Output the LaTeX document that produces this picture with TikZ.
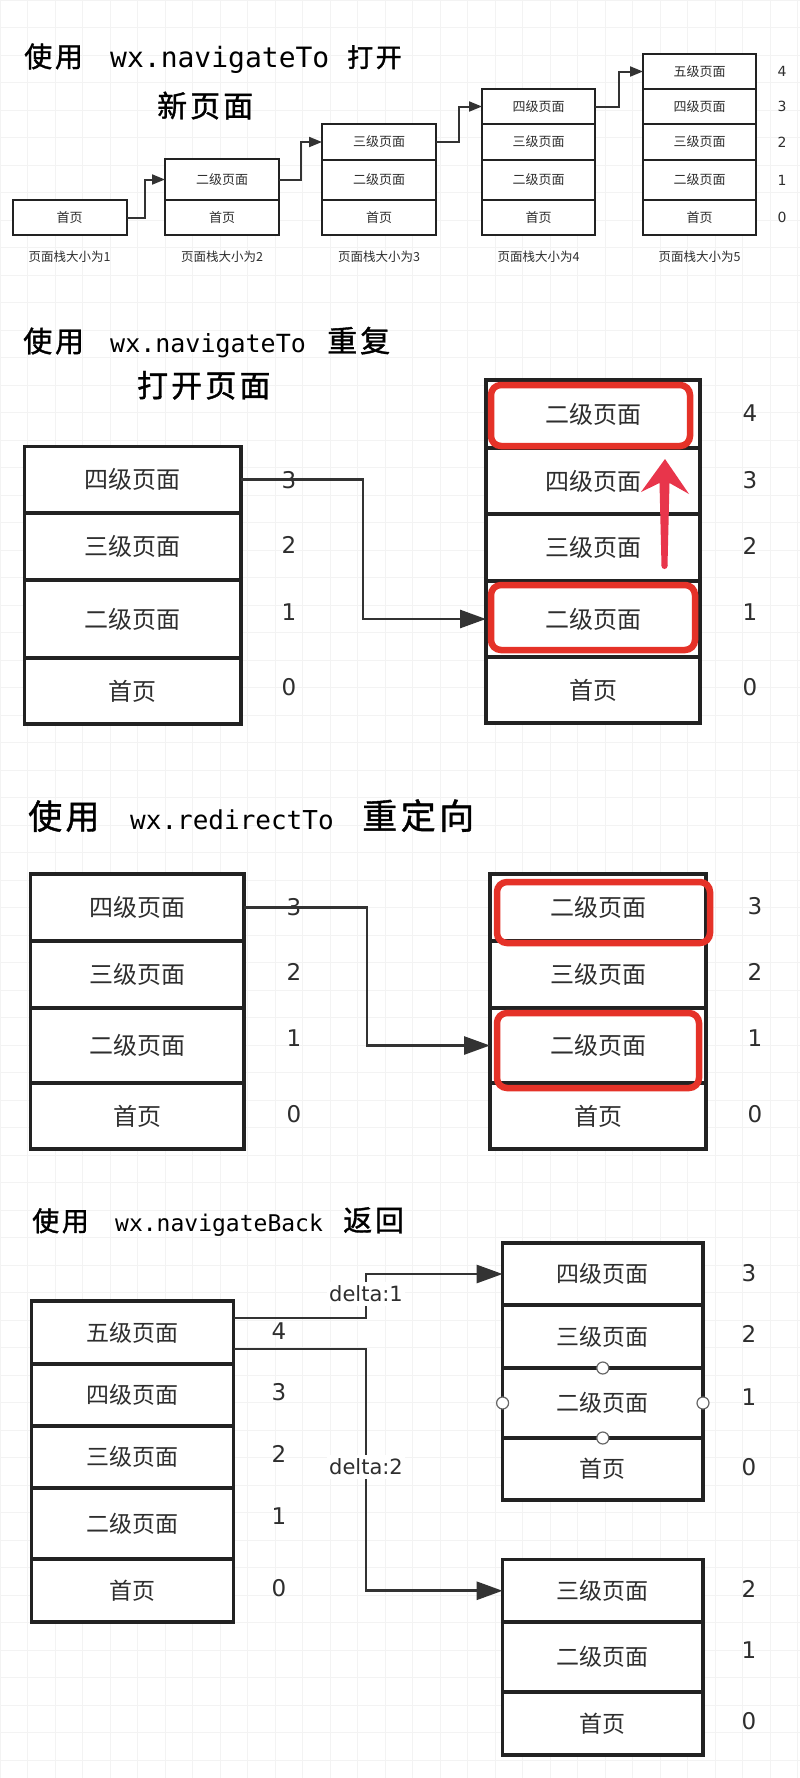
\documentclass[tikz,border=0pt]{standalone}
\usepackage{fontspec}
\setmainfont{DejaVu Sans}
\newfontfamily\cjk{Noto Sans CJK SC}
\newfontfamily\cjkt[LetterSpace=10,FakeBold=1.2]{Noto Sans CJK SC}
\newfontfamily\mono{DejaVu Sans Mono}
\usetikzlibrary{arrows.meta}
\definecolor{linec}{HTML}{222222}
\definecolor{textc}{HTML}{2E2E2E}
\definecolor{connc}{HTML}{333333}
\definecolor{hlred}{HTML}{E53228}
\definecolor{arrred}{HTML}{E8354B}
\definecolor{gridc}{HTML}{F3F3F3}
\newcommand\mkcell[7][]{\node[cell,#1,minimum width={#4-#2},minimum height={#5-#3}] (#6) at ({(#2+#4)/2},{(#3+#5)/2}) {#7};}
\begin{document}
\begin{tikzpicture}[x=1pt,y=-1pt,
  cell/.style={draw=linec,line width=3.3pt,fill=white,inner sep=0pt,outer sep=0pt,text=textc,font=\cjk\fontsize{24}{28}\selectfont},
  smallcell/.style={line width=2pt,font=\cjk\fontsize{13}{15}\selectfont},
  cell4/.style={font=\cjk\fontsize{23}{27}\selectfont},
  num/.style={inner sep=0pt,text=textc,font=\fontsize{23}{27}\selectfont},
  numsmall/.style={inner sep=0pt,text=textc,font=\fontsize{14}{16}\selectfont},
  lab/.style={inner sep=0pt,text=textc,font=\cjk\fontsize{12.5}{14}\selectfont},
  conn/.style={draw=connc,line width=2.8pt,-{Triangle[length=26pt,width=18pt]}},
  connsmall/.style={draw=connc,line width=2pt,-{Triangle[length=13pt,width=10pt]}},
  hl/.style={draw=hlred,line width=6.5pt,rounded corners=10pt},
  dlab/.style={fill=white,inner xsep=2pt,inner ysep=4pt,text=textc,font=\fontsize{21}{24}\selectfont},
  handle/.style={draw=black!60,fill=white,line width=1.2pt},
  gridl/.style={draw=gridc,line width=0.8pt},
  ttl/.style={anchor=base west,inner sep=0pt,text=black},
]
\fill[white] (0,0) rectangle (800,1778);
\useasboundingbox (0,0) rectangle (800,1778);
\foreach \i in {0,27.5,...,800} \draw[gridl] (\i,0) -- (\i,1778);
\foreach \j in {0,27.5,...,1778} \draw[gridl] (0,\j) -- (800,\j);

% ---------------- Section 1 ----------------
\node[ttl,font=\cjkt\fontsize{28}{30}\selectfont] (t1a) at (24,67) {使用};
\node[ttl,font=\mono\fontsize{28}{30}\selectfont] (t1b) at (110,67) {wx.navigateTo};
\node[ttl,font=\cjkt\fontsize{26}{30}\selectfont] (t1c) at (347,67) {打开};
\node[ttl,font=\cjkt\fontsize{30}{32}\selectfont] (t1d) at (157,117) {新页面};

\mkcell[smallcell]{12.8}{200}{126.5}{235}{aA}{首页}
\mkcell[smallcell]{165}{159}{279}{200}{bB}{二级页面}
\mkcell[smallcell]{165}{200}{279}{235}{bA}{首页}
\mkcell[smallcell]{322}{124}{436}{160}{cC}{三级页面}
\mkcell[smallcell]{322}{160}{436}{200}{cB}{二级页面}
\mkcell[smallcell]{322}{200}{436}{235}{cA}{首页}
\mkcell[smallcell]{482}{89}{595}{124}{dD}{四级页面}
\mkcell[smallcell]{482}{124}{595}{160}{dC}{三级页面}
\mkcell[smallcell]{482}{160}{595}{200}{dB}{二级页面}
\mkcell[smallcell]{482}{200}{595}{235}{dA}{首页}
\mkcell[smallcell]{643}{54}{756}{89}{eE}{五级页面}
\mkcell[smallcell]{643}{89}{756}{124}{eD}{四级页面}
\mkcell[smallcell]{643}{124}{756}{160}{eC}{三级页面}
\mkcell[smallcell]{643}{160}{756}{200}{eB}{二级页面}
\mkcell[smallcell]{643}{200}{756}{235}{eA}{首页}

\node[numsmall] (n1e) at (782,71.5) {4};
\node[numsmall] (n1d) at (782,106.5) {3};
\node[numsmall] (n1c) at (782,142) {2};
\node[numsmall] (n1b) at (782,180) {1};
\node[numsmall] (n1a) at (782,217.5) {0};

\node[lab] (l1) at (69.7,257) {页面栈大小为1};
\node[lab] (l2) at (222,257) {页面栈大小为2};
\node[lab] (l3) at (379,257) {页面栈大小为3};
\node[lab] (l4) at (538.5,257) {页面栈大小为4};
\node[lab] (l5) at (699.5,257) {页面栈大小为5};

\draw[connsmall] (aA.east) -- ++(18.5,0) |- (bB.west);
\draw[connsmall] (bB.east) -- ++(22,0) |- (cC.west);
\draw[connsmall] (cC.east) -- ++(23,0) |- (dD.west);
\draw[connsmall] (dD.east) -- ++(24,0) |- (eE.west);

% ---------------- Section 2 ----------------
\node[ttl,font=\cjkt\fontsize{29}{30}\selectfont] (t2a) at (23,352) {使用};
\node[ttl,font=\mono\fontsize{25}{30}\selectfont] (t2b) at (110,352) {wx.navigateTo};
\node[ttl,font=\cjkt\fontsize{30}{30}\selectfont] (t2c) at (327,352) {重复};
\node[ttl,font=\cjkt\fontsize{31}{32}\selectfont] (t2d) at (137,397) {打开页面};

\mkcell{24.5}{446.7}{241}{513}{pD}{四级页面}
\mkcell{24.5}{513}{241}{580}{pC}{三级页面}
\mkcell{24.5}{580}{241}{658}{pB}{二级页面}
\mkcell{24.5}{658}{241}{724}{pA}{首页}
\node[num] (n2d) at (289,480) {3};
\node[num] (n2c) at (289,545) {2};
\node[num] (n2b) at (289,612) {1};
\node[num] (n2a) at (289,687) {0};

\mkcell{486}{380}{700}{448}{qE}{二级页面}
\mkcell{486}{448}{700}{514}{qD}{四级页面}
\mkcell{486}{514}{700}{581}{qC}{三级页面}
\mkcell{486}{581}{700}{657}{qB}{二级页面}
\mkcell{486}{657}{700}{723}{qA}{首页}
\node[num] (m2e) at (750,413) {4};
\node[num] (m2d) at (750,480) {3};
\node[num] (m2c) at (750,546) {2};
\node[num] (m2b) at (750,612) {1};
\node[num] (m2a) at (750,687) {0};

\draw[conn] (pD.east) -- ++(122,0) |- (qB.west);
\draw[hl] (491,385) rectangle (690,446);
\draw[hl] (491,585) rectangle (695,650);
\fill[arrred] (665,459) -- (689,494) -- (669.5,483) -- (667.5,566) -- (661.5,566) -- (659.5,483) -- (641,492) -- cycle;
\fill[arrred] (664.5,566) circle[radius=3pt];

% ---------------- Section 3 ----------------
\node[ttl,font=\cjkt\fontsize{34}{36}\selectfont] (t3a) at (28,829) {使用};
\node[ttl,font=\mono\fontsize{26}{30}\selectfont] (t3b) at (130,829) {wx.redirectTo};
\node[ttl,font=\cjkt\fontsize{35}{36}\selectfont] (t3c) at (362,829) {重定向};

\mkcell{30.6}{874}{244}{941}{rD}{四级页面}
\mkcell{30.6}{941}{244}{1008}{rC}{三级页面}
\mkcell{30.6}{1008}{244}{1083}{rB}{二级页面}
\mkcell{30.6}{1083}{244}{1149}{rA}{首页}
\node[num] (n3d) at (294,907) {3};
\node[num] (n3c) at (294,972) {2};
\node[num] (n3b) at (294,1038) {1};
\node[num] (n3a) at (294,1114) {0};

\mkcell{490}{874}{706}{941}{sD}{二级页面}
\mkcell{490}{941}{706}{1008}{sC}{三级页面}
\mkcell{490}{1008}{706}{1083}{sB}{二级页面}
\mkcell{490}{1083}{706}{1149}{sA}{首页}
\node[num] (m3d) at (755,906) {3};
\node[num] (m3c) at (755,972) {2};
\node[num] (m3b) at (755,1038) {1};
\node[num] (m3a) at (755,1114) {0};

\draw[conn] (rD.east) -- ++(123,0) |- (sB.west);
\draw[hl] (497,882) rectangle (710,943);
\draw[hl] (497,1013) rectangle (699,1088);

% ---------------- Section 4 ----------------
\node[ttl,font=\cjkt\fontsize{27}{30}\selectfont] (t4a) at (32,1231) {使用};
\node[ttl,font=\mono\fontsize{23}{30}\selectfont] (t4b) at (115,1231) {wx.navigateBack};
\node[ttl,font=\cjkt\fontsize{29}{30}\selectfont] (t4c) at (343,1231) {返回};

\mkcell[cell4]{31.6}{1301}{233.7}{1364}{uE}{五级页面}
\mkcell[cell4]{31.6}{1364}{233.7}{1426}{uD}{四级页面}
\mkcell[cell4]{31.6}{1426}{233.7}{1488}{uC}{三级页面}
\mkcell[cell4]{31.6}{1488}{233.7}{1559}{uB}{二级页面}
\mkcell[cell4]{31.6}{1559}{233.7}{1622}{uA}{首页}
\node[num] (n4e) at (279,1331) {4};
\node[num] (n4d) at (279,1392) {3};
\node[num] (n4c) at (279,1454) {2};
\node[num] (n4b) at (279,1516) {1};
\node[num] (n4a) at (279,1588) {0};

\mkcell[cell4]{502.6}{1243}{703}{1305}{vD}{四级页面}
\mkcell[cell4]{502.6}{1305}{703}{1368}{vC}{三级页面}
\mkcell[cell4]{502.6}{1368}{703}{1438}{vB}{二级页面}
\mkcell[cell4]{502.6}{1438}{703}{1500}{vA}{首页}
\node[num] (m4d) at (749,1273) {3};
\node[num] (m4c) at (749,1334) {2};
\node[num] (m4b) at (749,1397) {1};
\node[num] (m4a) at (749,1467) {0};
\draw[handle] (vB.north) circle[radius=6pt];
\draw[handle] (vB.south) circle[radius=6pt];
\draw[handle] (vB.west) circle[radius=6pt];
\draw[handle] (vB.east) circle[radius=6pt];

\mkcell[cell4]{502.6}{1559.5}{703}{1622}{wC}{三级页面}
\mkcell[cell4]{502.6}{1622}{703}{1692}{wB}{二级页面}
\mkcell[cell4]{502.6}{1692}{703}{1755}{wA}{首页}
\node[num] (k4c) at (749,1589) {2};
\node[num] (k4b) at (749,1650) {1};
\node[num] (k4a) at (749,1721) {0};

\draw[conn] ([yshift=14.5pt]uE.east) -- ++(132.3,0) |- (vD.west);
\draw[conn] ([yshift=-16.5pt]uE.east) -- ++(132.3,0) |- (wC.west);
\node[dlab] (dl1) at (366,1294) {delta:1};
\node[dlab] (dl2) at (366,1467) {delta:2};
\end{tikzpicture}
\end{document}
